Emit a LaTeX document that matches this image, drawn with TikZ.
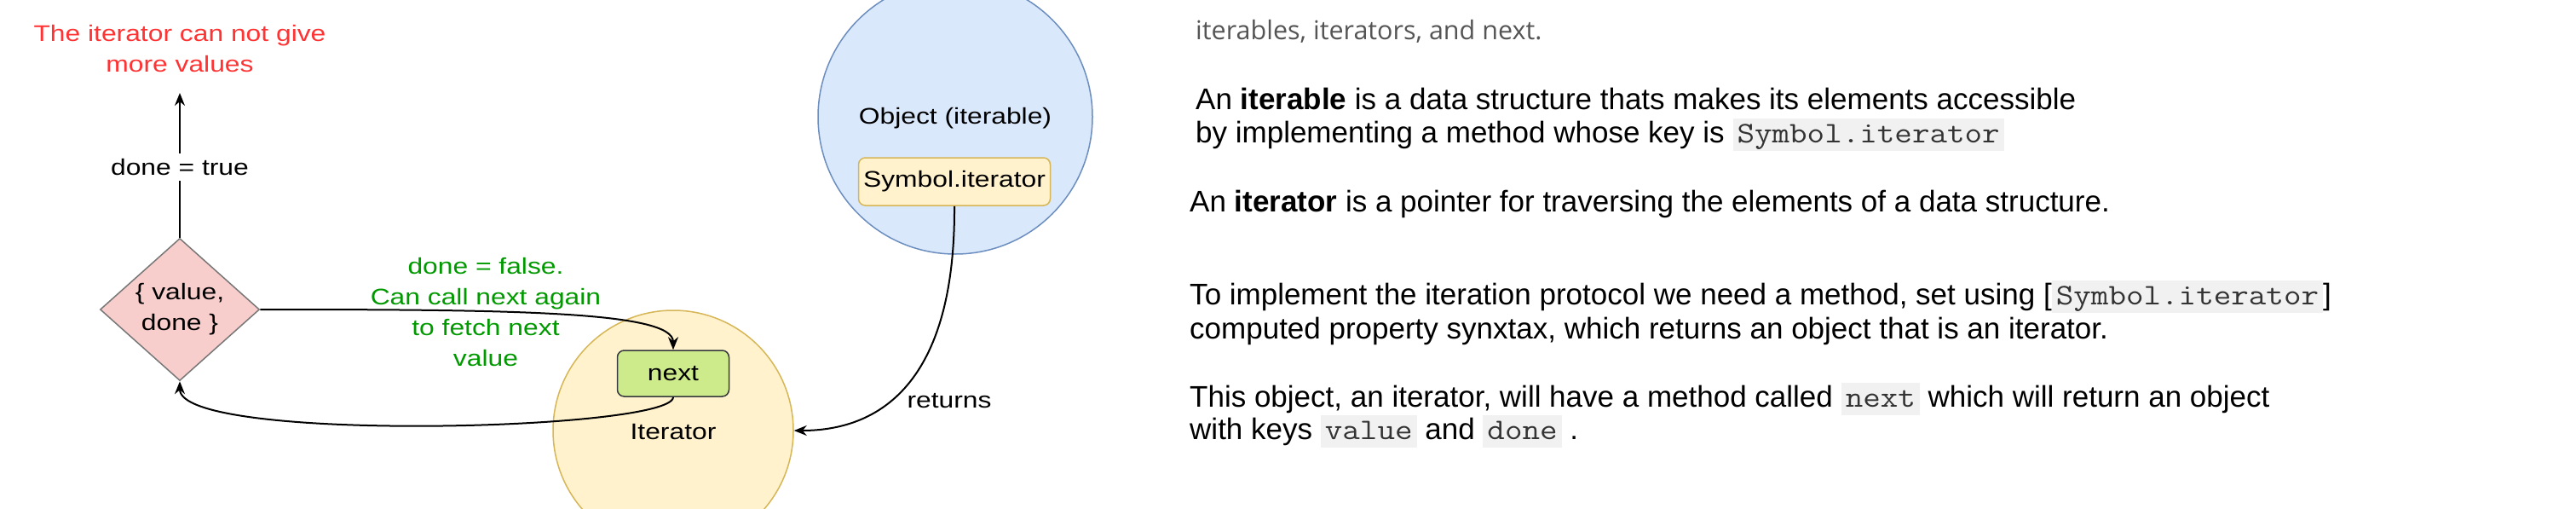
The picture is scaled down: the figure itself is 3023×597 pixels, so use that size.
\documentclass[tikz,border=0pt]{standalone}
\usepackage{fontspec}
\setmainfont{Liberation Sans}
\newfontfamily\drawfont[FakeStretch=1.2]{Liberation Sans}
\newfontfamily\headfont{Open Sans}
\newfontfamily\monofont[FakeStretch=1.14]{Latin Modern Mono}
\usetikzlibrary{shapes.geometric,arrows.meta}
\definecolor{bluefill}{HTML}{DAE8FC}
\definecolor{bluestroke}{HTML}{6C8EBF}
\definecolor{yelfill}{HTML}{FFF2CC}
\definecolor{yelstroke}{HTML}{D6B656}
\definecolor{diamfill}{HTML}{F8CECC}
\definecolor{diamstroke}{HTML}{777777}
\definecolor{greenfill}{HTML}{CDEB8B}
\definecolor{greenstroke}{HTML}{36393D}
\definecolor{redtext}{HTML}{FF3333}
\definecolor{greentext}{HTML}{009900}
\definecolor{headgray}{HTML}{555555}
\definecolor{codebg}{HTML}{F1F1F1}
\definecolor{codefg}{HTML}{333333}
\newcommand\inlinecode[1]{{\setlength{\fboxsep}{0pt}\colorbox{codebg}{\rule[-10pt]{0pt}{38pt}\hspace{5pt}{\monofont\color{codefg}#1}\hspace{5pt}}}}
\begin{document}
\begin{tikzpicture}[x=1pt,y=-1pt,
  drawtext/.style={font=\drawfont\fontsize{26.5}{36}\selectfont, align=center, inner sep=0pt},
  bodytext/.style={font=\fontsize{35}{39}\selectfont, inner sep=0pt, anchor=base west},
  conn/.style={draw=black, line width=2pt, -{Stealth[length=15pt,width=12pt]}},
  bigcircle/.style={circle, line width=1.5pt, inner sep=0pt},
  roundbox/.style={rectangle, rounded corners=8pt, line width=1.5pt, inner sep=0pt, font=\drawfont\fontsize{26.5}{36}\selectfont}
]
\clip (0,0) rectangle (3023,597);
\fill[white] (0,0) rectangle (3023,597);

% circles
\node[bigcircle, draw=bluestroke, fill=bluefill, minimum size=322pt] (obj) at (1121,137) {};
\node[bigcircle, draw=yelstroke, fill=yelfill, minimum size=282pt] (iter) at (790,505) {};

\node[drawtext] (objlabel) at (1121,139) {Object (iterable)};
\node[roundbox, draw=yelstroke, fill=yelfill, minimum width=225pt, minimum height=56pt] (sym) at (1120,213) {Symbol.iterator};
\node[drawtext] (iterlabel) at (790,507) {Iterator};
\node[roundbox, draw=greenstroke, fill=greenfill, minimum width=131pt, minimum height=54pt] (next) at (790,438) {next};

% diamond
\node[diamond, draw=diamstroke, fill=diamfill, line width=1.5pt, minimum width=187pt, minimum height=167pt, drawtext] (dia) at (211,363) {\{ value,\\ done \}};

% top text
\node[drawtext, text=redtext] (nomore) at (211,57) {The iterator can not give\\more values};
\coordinate (uptip) at (211,109);
\draw[conn] (dia.north) -- (uptip);
\node[drawtext, fill=white, inner ysep=6pt, inner xsep=4pt] (donetrue) at (211,196) {done = true};

% connectors
\draw[conn] (dia.east) .. controls (600,363) and (790,365) .. (next.north);
\draw[conn] (next.south) .. controls (790,505) and (211,520) .. (dia.south);
\draw[conn] (sym.south) .. controls (1121,440) and (1040,505) .. (iter.east);

\node[drawtext, text=greentext] (falselbl) at (570,366) {done = false.\\Can call next again\\to fetch next\\value};
\node[drawtext] (returns) at (1114,470) {returns};

% right text
\node[inner sep=0pt, anchor=base west, font=\headfont\fontsize{30.5}{36}\selectfont, text=headgray] (head) at (1403,46) {iterables, iterators, and next.};
\node[bodytext] (l1) at (1403,128) {An \textbf{iterable} is a data structure thats makes its elements accessible};
\node[bodytext] (l2) at (1403,167) {by implementing a method whose key is \inlinecode{Symbol.iterator}};
\node[bodytext] (l3) at (1396,248) {An \textbf{iterator} is a pointer for traversing the elements of a data structure.};
\node[bodytext] (l4) at (1396,357) {To implement the iteration protocol we need a method, set using [\inlinecode{Symbol.iterator}]};
\node[bodytext] (l5) at (1396,397) {computed property synxtax, which returns an object that is an iterator.};
\node[bodytext] (l6) at (1396,477) {This object, an iterator, will have a method called \inlinecode{next} which will return an object};
\node[bodytext] (l7) at (1396,515) {with keys \inlinecode{value} and \inlinecode{done} .};
\end{tikzpicture}
\end{document}
